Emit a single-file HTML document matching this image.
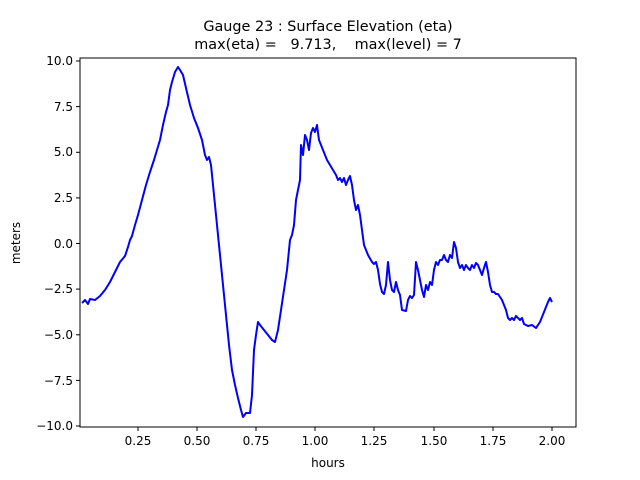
<!DOCTYPE html>
<html><head><meta charset="utf-8"><style>body{margin:0;background:#fff}svg{display:block}</style></head><body>
<svg width="640" height="480" xmlns="http://www.w3.org/2000/svg" font-family="DejaVu Sans, Liberation Sans, sans-serif">
<rect width="640" height="480" fill="#fff"/>
<text x="328" y="31" font-size="14.4" text-anchor="middle">Gauge 23 : Surface Elevation (eta)</text>
<text x="328" y="49" font-size="14.4" text-anchor="middle" xml:space="preserve">max(eta) =   9.713,    max(level) = 7</text>
<polyline fill="none" stroke="#0000ff" stroke-width="2" stroke-linejoin="round" points="82,303 85,300 88,304 90,299 95,300 100,296 105,290 110,282 115,272 120,262 125,256 128,247 130,240 132,236 135,225 138,215 142,200 146,185 150,172 154,160 157,150 160,140 163,125 166,112 168,105 170,90 172,82 175,72 178,67 180,70 183,75 186,88 190,105 194,118 198,128 202,140 205,155 207,160 209,157 211,165 214,195 217,225 220,255 223,285 226,315 229,345 232,370 235,385 238,398 241,410 243,417 246,413 250,413 252,395 254,350 256,335 258,322 260,325 264,330 268,335 272,340 275,342 278,330 281,310 284,290 287,270 290,240 292,235 294,225 296,200 298,190 300,180 301,145 303,155 305,135 307,140 309,150 311,133 313,128 315,132 317,125 319,140 321,145 323,150 325,155 327,160 330,165 333,170 336,175 338,180 340,178 342,182 344,178 346,185 348,180 350,176 352,185 354,200 356,210 358,205 360,215 362,230 364,245 366,250 368,255 372,262 374,264 376,262 378,270 380,284 382,292 384,294 386,285 388,262 390,280 392,290 394,292 396,282 398,290 400,295 402,310 406,311 408,300 410,296 412,298 414,295 416,262 418,270 420,280 422,290 424,297 426,285 428,290 430,282 432,285 434,270 436,262 438,265 440,260 442,260 444,255 446,260 448,262 450,255 452,258 454,242 456,248 458,262 460,268 462,265 464,270 466,265 468,268 470,270 472,265 474,268 476,263 478,265 480,270 482,275 484,268 486,262 488,272 490,285 492,292 494,292 496,294 498,294 500,297 502,300 504,305 506,310 508,318 510,320 512,318 514,320 516,316 518,318 520,320 522,318 524,324 528,326 532,325 536,328 540,322 544,312 548,302 550,298 552,302"/>
<rect x="80" y="58" width="496" height="369" fill="none" stroke="#000" stroke-width="1"/>
<g stroke="#000">
<line x1="138" y1="427" x2="138" y2="431"/><line x1="197" y1="427" x2="197" y2="431"/><line x1="256" y1="427" x2="256" y2="431"/><line x1="315" y1="427" x2="315" y2="431"/><line x1="374" y1="427" x2="374" y2="431"/><line x1="434" y1="427" x2="434" y2="431"/><line x1="493" y1="427" x2="493" y2="431"/><line x1="552" y1="427" x2="552" y2="431"/>
<line x1="76" y1="61" x2="80" y2="61"/><line x1="76" y1="106.6" x2="80" y2="106.6"/><line x1="76" y1="152.3" x2="80" y2="152.3"/><line x1="76" y1="197.9" x2="80" y2="197.9"/><line x1="76" y1="243.5" x2="80" y2="243.5"/><line x1="76" y1="289.1" x2="80" y2="289.1"/><line x1="76" y1="334.8" x2="80" y2="334.8"/><line x1="76" y1="380.4" x2="80" y2="380.4"/><line x1="76" y1="426" x2="80" y2="426"/>
</g>
<g font-size="12" text-anchor="middle">
<text x="138" y="445">0.25</text><text x="197" y="445">0.50</text><text x="256" y="445">0.75</text><text x="315" y="445">1.00</text><text x="374" y="445">1.25</text><text x="434" y="445">1.50</text><text x="493" y="445">1.75</text><text x="552" y="445">2.00</text>
<text x="328" y="467">hours</text>
</g>
<g font-size="12" text-anchor="end">
<text x="73" y="65">10.0</text><text x="73" y="111">7.5</text><text x="73" y="156">5.0</text><text x="73" y="202">2.5</text><text x="73" y="248">0.0</text><text x="73" y="293">−2.5</text><text x="73" y="339">−5.0</text><text x="73" y="385">−7.5</text><text x="73" y="430">−10.0</text>
</g>
<text x="20" y="243" font-size="12" text-anchor="middle" transform="rotate(-90 20 243)">meters</text>
</svg>
</body></html>
